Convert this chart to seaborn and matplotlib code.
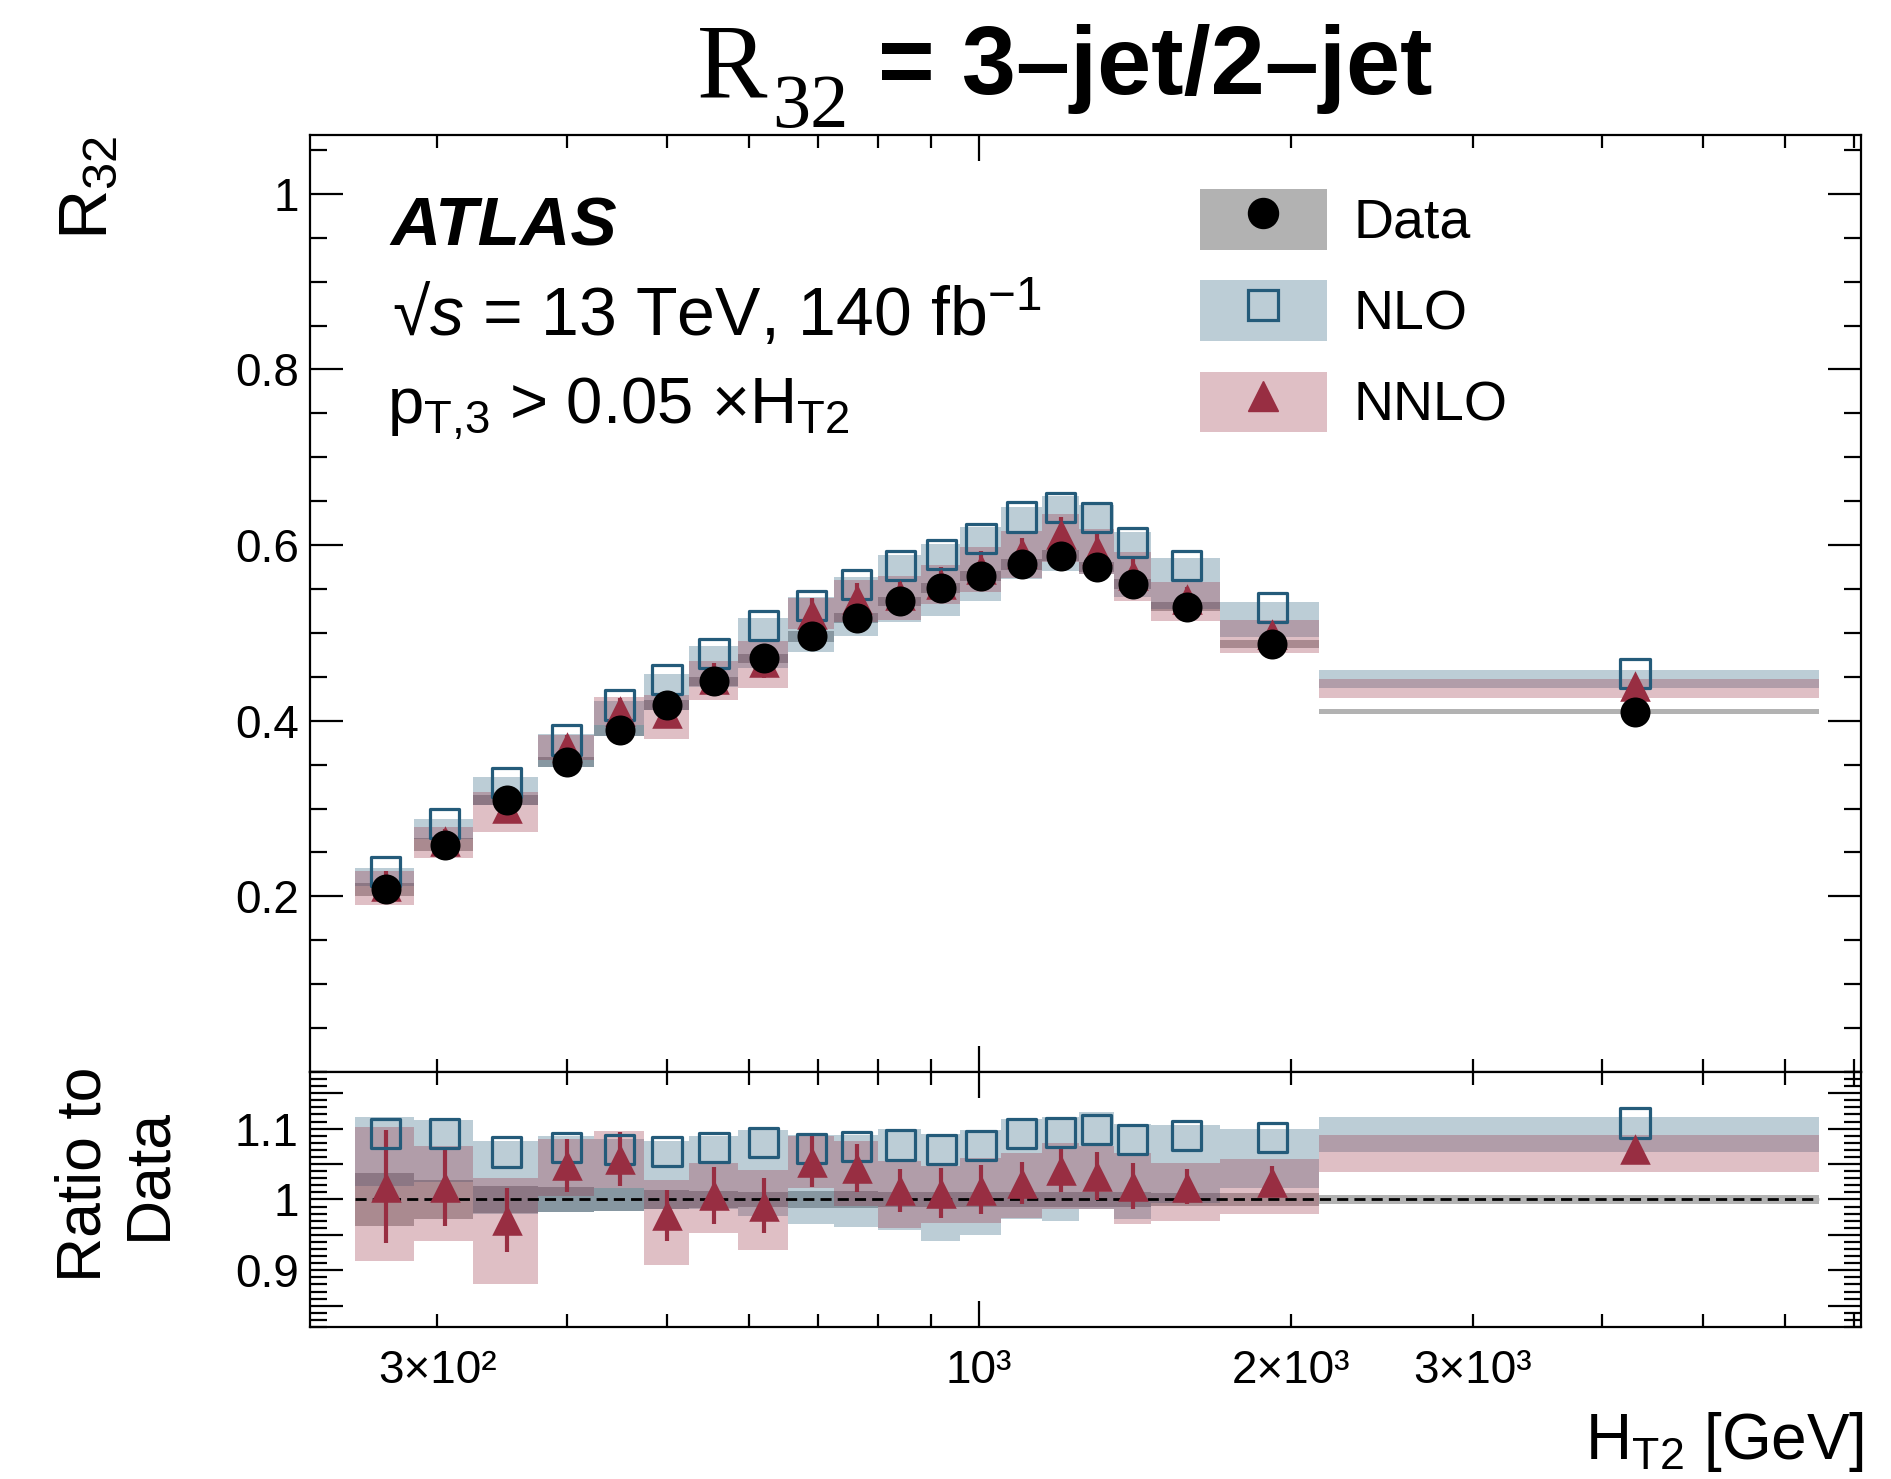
import numpy as np
import matplotlib
matplotlib.use("Agg")
import matplotlib.pyplot as plt
from matplotlib.ticker import FixedLocator, FuncFormatter, MultipleLocator
from matplotlib.patches import Patch
from matplotlib.lines import Line2D
import seaborn as sns

# HT2 bin edges [GeV]
bin_edges = [250, 285, 325, 375, 425, 475, 525, 585, 655, 725, 800, 880,
             960, 1050, 1150, 1250, 1350, 1465, 1710, 2130, 6475]

# R32 values (upper panel)
data_r32 = [0.208, 0.259, 0.310, 0.353, 0.389, 0.418, 0.445, 0.471, 0.496, 0.517,
            0.536, 0.551, 0.565, 0.578, 0.588, 0.575, 0.556, 0.530, 0.487, 0.410]
nlo_r32 = [0.228, 0.283, 0.330, 0.378, 0.418, 0.447, 0.477, 0.508, 0.531, 0.555,
           0.577, 0.589, 0.608, 0.632, 0.643, 0.631, 0.603, 0.577, 0.529, 0.454]
nnlo_r32 = [0.212, 0.263, 0.301, 0.370, 0.411, 0.409, 0.448, 0.467, 0.522, 0.539,
            0.543, 0.556, 0.573, 0.591, 0.613, 0.594, 0.566, 0.539, 0.499, 0.439]

# ratio to data (lower panel)
nlo_ratio = [1.093, 1.093, 1.067, 1.073, 1.071, 1.068, 1.073, 1.080, 1.072, 1.075,
             1.077, 1.070, 1.076, 1.093, 1.094, 1.099, 1.085, 1.090, 1.088, 1.108]
nnlo_ratio = [1.018, 1.017, 0.971, 1.048, 1.057, 0.978, 1.006, 0.991, 1.053, 1.044,
              1.013, 1.009, 1.014, 1.023, 1.042, 1.033, 1.019, 1.018, 1.025, 1.071]
nnlo_ratio_err = [0.080, 0.055, 0.045, 0.038, 0.038, 0.036, 0.040, 0.039, 0.036, 0.034,
                  0.030, 0.035, 0.035, 0.030, 0.032, 0.034, 0.032, 0.025, 0.022, 0.008]

# uncertainty bands, relative to data
nlo_band_lo = [1.019, 1.025, 0.979, 0.983, 0.984, 0.986, 0.986, 0.976, 0.965, 0.961,
               0.957, 0.942, 0.950, 0.972, 0.970, 0.987, 0.973, 0.995, 1.016, 1.067]
nlo_band_hi = [1.116, 1.112, 1.083, 1.089, 1.086, 1.083, 1.089, 1.098, 1.091, 1.091,
               1.099, 1.092, 1.098, 1.114, 1.116, 1.123, 1.106, 1.105, 1.099, 1.116]
nnlo_band_lo = [0.913, 0.941, 0.880, 1.005, 1.016, 0.908, 0.953, 0.928, 1.016, 0.991,
                0.960, 0.967, 0.967, 0.974, 0.987, 0.987, 0.965, 0.970, 0.979, 1.039]
nnlo_band_hi = [1.103, 1.076, 1.030, 1.086, 1.097, 1.027, 1.051, 1.041, 1.089, 1.083,
                1.054, 1.047, 1.059, 1.066, 1.080, 1.076, 1.066, 1.052, 1.057, 1.091]
data_band = [0.037, 0.028, 0.019, 0.017, 0.016, 0.014, 0.012, 0.011, 0.012, 0.012,
             0.010, 0.010, 0.010, 0.010, 0.010, 0.010, 0.010, 0.009, 0.009, 0.007]

nlo_color = "#245b7a"
nnlo_color = "#982e42"
band_alpha = 0.3

sns.set_theme(style="ticks")
plt.rcParams["font.family"] = ["Liberation Sans", "DejaVu Sans"]
plt.rcParams["mathtext.fontset"] = "custom"
plt.rcParams["mathtext.rm"] = "Liberation Sans"
plt.rcParams["mathtext.it"] = "Liberation Sans:italic"
plt.rcParams["mathtext.bf"] = "Liberation Sans:bold"
plt.rcParams["axes.linewidth"] = 1.6
plt.rcParams["xtick.labelsize"] = 33
plt.rcParams["ytick.labelsize"] = 33
for key in ["text.color", "axes.labelcolor", "axes.edgecolor", "xtick.color", "ytick.color"]:
    plt.rcParams[key] = "black"

edges = np.array(bin_edges, dtype=float)
centers = 0.5 * (edges[:-1] + edges[1:])
data = np.array(data_r32)


def band(ax, lo, hi, color):
    lo = np.append(lo, lo[-1])
    hi = np.append(hi, hi[-1])
    ax.fill_between(edges, lo, hi, step="post", color=color, alpha=band_alpha,
                    linewidth=0, zorder=1)


def markers(ax, nlo_y, y, yerr):
    ax.errorbar(centers, y, yerr=yerr, fmt="none", ecolor=nnlo_color,
                elinewidth=3, zorder=3)
    sns.scatterplot(x=centers, y=nlo_y, ax=ax, marker="s", s=21 ** 2, color="none",
                    edgecolor=nlo_color, linewidth=2.3, zorder=3, legend=False)
    sns.scatterplot(x=centers, y=y, ax=ax, marker="^", s=22 ** 2, color=nnlo_color,
                    linewidth=0, zorder=4, legend=False)


fig = plt.figure(figsize=(18.91, 14.79), dpi=100)
ax = fig.add_axes([0.1639, 0.2752, 0.8202, 0.6335])
rax = fig.add_axes([0.1639, 0.1028, 0.8202, 0.1724], sharex=ax)

# upper panel
band(ax, data * (1 - np.array(data_band)), data * (1 + np.array(data_band)), "black")
band(ax, data * np.array(nlo_band_lo), data * np.array(nlo_band_hi), nlo_color)
band(ax, data * np.array(nnlo_band_lo), data * np.array(nnlo_band_hi), nnlo_color)
markers(ax, nlo_r32, nnlo_r32, data * np.array(nnlo_ratio_err))
sns.scatterplot(x=centers, y=data_r32, ax=ax, marker="o", s=21.6 ** 2, color="black",
                linewidth=0, zorder=5, legend=False)

# lower panel
band(rax, 1 - np.array(data_band), 1 + np.array(data_band), "black")
band(rax, nlo_band_lo, nlo_band_hi, nlo_color)
band(rax, nnlo_band_lo, nnlo_band_hi, nnlo_color)
rax.hlines(1.0, edges[0], edges[-1], colors="black", linestyles=(0, (4, 2.2)),
           linewidth=2.0, zorder=2)
markers(rax, nlo_ratio, nnlo_ratio, nnlo_ratio_err)

ax.set_xscale("log")
ax.set_xlim(226, 7110)
ax.set_ylim(0.0, 1.067)
rax.set_ylim(0.82, 1.18)

# x ticks
rax.xaxis.set_major_locator(FixedLocator([1000]))
rax.xaxis.set_minor_locator(FixedLocator([300, 400, 500, 600, 700, 800, 900,
                                          2000, 3000, 4000, 5000, 6000, 7000]))
xlabels = {300: "3×10²", 1000: "10³", 2000: "2×10³", 3000: "3×10³"}
fmt_x = FuncFormatter(lambda v, p: xlabels.get(int(round(v)), ""))
rax.xaxis.set_major_formatter(fmt_x)
rax.xaxis.set_minor_formatter(fmt_x)

# y ticks
ax.yaxis.set_major_locator(FixedLocator([0.2, 0.4, 0.6, 0.8, 1.0]))
ax.yaxis.set_minor_locator(MultipleLocator(0.05))
ax.yaxis.set_major_formatter(FuncFormatter(lambda v, p: f"{v:g}"))
rax.yaxis.set_major_locator(FixedLocator([0.85, 0.9, 0.95, 1.0, 1.05, 1.1, 1.15]))
rax.yaxis.set_minor_locator(MultipleLocator(0.01))
rax.yaxis.set_major_formatter(FuncFormatter(
    lambda v, p: f"{v:g}" if min(abs(v - t) for t in (0.9, 1.0, 1.1)) < 1e-6 else ""))

for a in (ax, rax):
    a.tick_params(which="both", direction="in", top=True, right=True, width=1.6,
                  color="black")
    a.tick_params(axis="y", which="major", length=24, pad=8)
    a.tick_params(axis="y", which="minor", length=12)
    a.tick_params(axis="x", which="major", length=19, pad=16)
    a.tick_params(axis="x", which="minor", length=9.5, pad=16)
ax.tick_params(axis="x", which="both", labelbottom=False)

# axis labels
ax.set_ylabel("R$_{32}$", fontsize=50, loc="top")
ax.yaxis.set_label_coords(-0.122, 1.0)
rax.set_ylabel("Ratio to\nData", fontsize=45, linespacing=1.12)
rax.yaxis.set_label_coords(-0.085, 0.6)
rax.set_xlabel("H$_{\\mathrm{T2}}$ [GeV]", fontsize=46, loc="right")
rax.xaxis.set_label_coords(1.002, -0.325)

# title: serif R32 followed by bold sans text
fig.text(697 / 1891, 0.9348, "R", fontfamily="Liberation Serif", fontsize=76,
         ha="left", va="baseline")
fig.text(772 / 1891, 0.914, "32", fontfamily="Liberation Serif", fontsize=55,
         ha="left", va="baseline")
fig.text(878 / 1891, 0.9364, "= 3–jet/2–jet", fontsize=70, fontweight="bold",
         ha="left", va="baseline")

# labels in the upper panel
ax.text(0.0516, 0.8825, "ATLAS", transform=ax.transAxes, fontsize=50,
        fontweight="bold", fontstyle="italic", va="baseline")
ax.text(0.0526, 0.786, "√$s$ = 13 TeV, 140 fb$^{-1}$", transform=ax.transAxes,
        fontsize=49, va="baseline")
ax.text(0.050, 0.693, "p$_{\\mathrm{T{,}3}}$ > 0.05 ×H$_{\\mathrm{T2}}$",
        transform=ax.transAxes, fontsize=47, va="baseline")

# legend
handles = [
    (Patch(facecolor="black", alpha=band_alpha, linewidth=0),
     Line2D([], [], marker="o", color="black", linestyle="none", markersize=21.6)),
    (Patch(facecolor=nlo_color, alpha=band_alpha, linewidth=0),
     Line2D([], [], marker="s", color=nlo_color, markerfacecolor="none",
            markeredgewidth=2.3, linestyle="none", markersize=21)),
    (Patch(facecolor=nnlo_color, alpha=band_alpha, linewidth=0),
     Line2D([], [], marker="^", color=nnlo_color, linestyle="none", markersize=22)),
]
ax.legend(handles, ["Data", "NLO", "NNLO"], loc="upper left",
          bbox_to_anchor=(0.5738, 0.9424), frameon=False, fontsize=40,
          handlelength=2.28, handleheight=1.3, handletextpad=0.49,
          labelspacing=0.55, borderpad=0, borderaxespad=0)

fig.savefig("out.png", dpi=100)
